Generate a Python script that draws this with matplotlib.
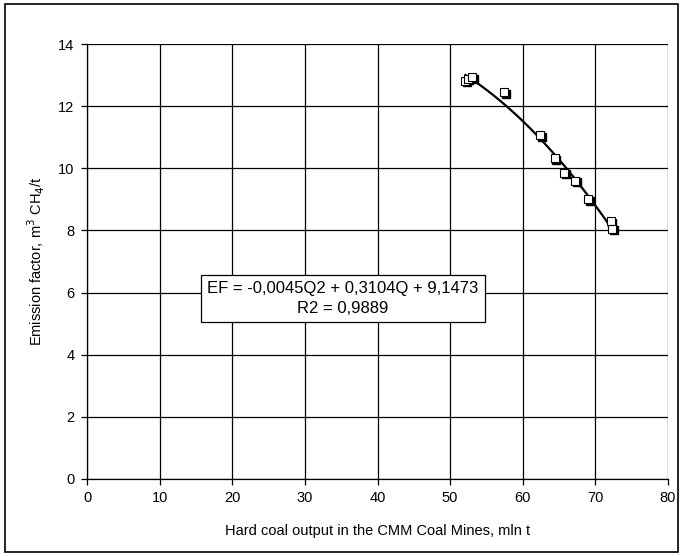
import matplotlib.pyplot as plt
import matplotlib.transforms as mtransforms
import numpy as np

plt.rcParams['font.family'] = ['Liberation Sans', 'DejaVu Sans']

# hard coal output (mln t) and emission factor (m3 CH4/t)
output_mt = [52.1, 52.4, 53.0, 57.4, 62.4, 64.4, 65.7, 67.2, 69.0, 72.1, 72.3]
emission_factor = [12.82, 12.88, 12.94, 12.45, 11.06, 10.32, 9.86, 9.60, 9.00, 8.30, 8.06]

fit_label = "EF = -0,0045Q2 + 0,3104Q + 9,1473\nR2 = 0,9889"

fig = plt.figure(figsize=(6.83, 5.56), dpi=100)
ax = fig.add_axes([87 / 683, 1 - 479 / 556, (668 - 87) / 683, (479 - 44) / 556])

# border around whole chart
fig.patches.append(plt.Rectangle((0.008, 0.008), 0.984, 0.984, transform=fig.transFigure,
                                 fill=False, edgecolor='black', linewidth=1.2))

# 2nd order polynomial trend line
coef = np.polyfit(output_mt, emission_factor, 2)
xs = np.linspace(min(output_mt), max(output_mt), 100)
ax.plot(xs, np.polyval(coef, xs), color='black', linewidth=1.6, zorder=3)

# markers with shadow
shadow = mtransforms.offset_copy(ax.transData, fig=fig, x=1.2, y=-1.2, units='points')
ax.plot(output_mt, emission_factor, 's', markersize=5.5, color='black',
        transform=shadow, zorder=4)
ax.plot(output_mt, emission_factor, 's', markersize=5.5, markerfacecolor='white',
        markeredgecolor='black', markeredgewidth=0.8, zorder=5)

ax.set_xlim(0, 80)
ax.set_ylim(0, 14)
ax.set_xticks(range(0, 81, 10))
ax.set_yticks(range(0, 15, 2))
ax.grid(True, color='black', linewidth=0.9)
for s in ['top', 'right']:
    ax.spines[s].set_visible(False)
for s in ['left', 'bottom']:
    ax.spines[s].set_linewidth(0.9)
ax.tick_params(direction='out', length=4, width=0.9, labelsize=10.5, pad=5)

ax.set_xlabel('Hard coal output in the CMM Coal Mines, mln t', fontsize=10.5, labelpad=13)
ax.set_ylabel('Emission factor, m$^3$ CH$_4$/t', fontsize=10.5, labelpad=8)

ax.text(35.25, 5.81, fit_label, fontsize=12, ha='center', va='center', linespacing=1.35,
        bbox=dict(boxstyle='square,pad=0.4', facecolor='white', edgecolor='black', linewidth=0.9),
        zorder=6)

fig.savefig('out.png', dpi=100)
